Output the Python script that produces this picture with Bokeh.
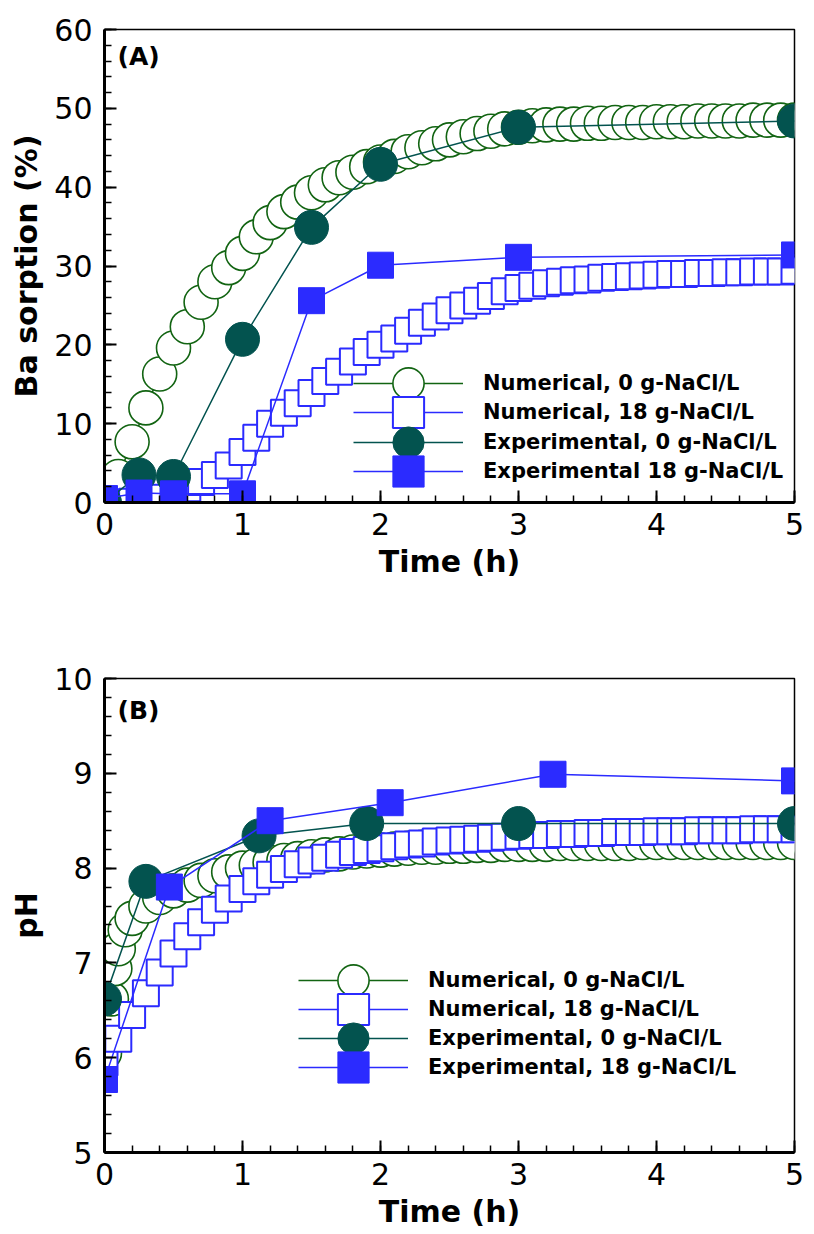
from bokeh.plotting import figure
from bokeh.layouts import column
from bokeh.models import Range1d, SingleIntervalTicker, Legend, LegendItem, Label
from bokeh.embed import file_html
from bokeh.resources import INLINE

# ---------------- data ----------------
TIME_GRID = [0.0, 0.1, 0.2, 0.3, 0.4, 0.5, 0.6, 0.7, 0.8, 0.9,
             1.0, 1.1, 1.2, 1.3, 1.4, 1.5, 1.6, 1.7, 1.8, 1.9,
             2.0, 2.1, 2.2, 2.3, 2.4, 2.5, 2.6, 2.7, 2.8, 2.9,
             3.0, 3.1, 3.2, 3.3, 3.4, 3.5, 3.6, 3.7, 3.8, 3.9,
             4.0, 4.1, 4.2, 4.3, 4.4, 4.5, 4.6, 4.7, 4.8, 4.9, 5.0]

# Panel A: Ba sorption (%)
BA_NUM_0 = [0.0, 3.3, 7.7, 12.0, 16.3, 19.6, 22.3, 25.4, 28.0, 29.8,
            31.6, 33.7, 35.5, 36.9, 38.1, 39.3, 40.3, 41.2, 41.9, 42.6,
            43.2, 43.9, 44.5, 45.0, 45.5, 46.0, 46.4, 46.8, 47.1, 47.4,
            47.6, 47.8, 47.9, 48.0, 48.0, 48.1, 48.1, 48.2, 48.2, 48.2,
            48.3, 48.3, 48.3, 48.4, 48.4, 48.4, 48.4, 48.5, 48.5, 48.5, 48.5]
BA_NUM_18 = [0.0, 0.0, 0.1, 0.3, 0.6, 1.1, 1.8, 2.6, 3.5, 4.7,
             6.4, 8.2, 10.0, 11.4, 12.6, 13.9, 15.4, 16.6, 17.9, 19.1,
             20.0, 20.8, 21.8, 22.8, 23.6, 24.4, 25.0, 25.6, 26.2, 26.8,
             27.2, 27.5, 27.8, 28.0, 28.2, 28.3, 28.5, 28.6, 28.7, 28.8,
             28.9, 29.0, 29.0, 29.1, 29.1, 29.2, 29.2, 29.3, 29.3, 29.3, 29.4]
TIME_EXP_A = [0.0, 0.25, 0.5, 1.0, 1.5, 2.0, 3.0, 5.0]
BA_EXP_0 = [0.0, 3.5, 3.3, 20.7, 34.9, 42.9, 47.6, 48.4]
BA_EXP_18 = [0.5, 1.2, 1.1, 1.1, 25.6, 30.1, 31.1, 31.4]

# Panel B: pH
TIME_PH_NUM0 = [0.0, 0.025, 0.05, 0.075, 0.1, 0.15, 0.2,
                0.3, 0.4, 0.5, 0.6, 0.7, 0.8, 0.9,
                1.0, 1.1, 1.2, 1.3, 1.4, 1.5, 1.6, 1.7, 1.8, 1.9,
                2.0, 2.1, 2.2, 2.3, 2.4, 2.5, 2.6, 2.7, 2.8, 2.9,
                3.0, 3.1, 3.2, 3.3, 3.4, 3.5, 3.6, 3.7, 3.8, 3.9,
                4.0, 4.1, 4.2, 4.3, 4.4, 4.5, 4.6, 4.7, 4.8, 4.9, 5.0]
PH_NUM_0 = [6.05, 6.32, 6.62, 6.94, 7.15, 7.35, 7.47,
            7.60, 7.69, 7.76, 7.82, 7.87, 7.92, 7.96,
            8.00, 8.03, 8.06, 8.08, 8.10, 8.12, 8.14, 8.15, 8.17, 8.18,
            8.19, 8.20, 8.21, 8.22, 8.22, 8.23, 8.23, 8.24, 8.24, 8.25,
            8.25, 8.25, 8.25, 8.26, 8.26, 8.26, 8.26, 8.26, 8.26, 8.27,
            8.27, 8.27, 8.27, 8.27, 8.27, 8.27, 8.27, 8.27, 8.27, 8.27, 8.27]
PH_NUM_18 = [5.95, 6.20, 6.45, 6.68, 6.90, 7.10, 7.28, 7.43, 7.56, 7.68,
             7.78, 7.86, 7.93, 7.99, 8.04, 8.08, 8.11, 8.14, 8.17, 8.19,
             8.21, 8.23, 8.25, 8.26, 8.28, 8.29, 8.30, 8.31, 8.32, 8.33,
             8.34, 8.35, 8.35, 8.36, 8.36, 8.37, 8.37, 8.38, 8.38, 8.38,
             8.39, 8.39, 8.39, 8.40, 8.40, 8.40, 8.40, 8.41, 8.41, 8.41, 8.41]
TIME_PH_EXP0 = [0.0, 0.3, 1.12, 1.9, 3.0, 5.0]
PH_EXP_0 = [6.62, 7.86, 8.34, 8.47, 8.47, 8.47]
TIME_PH_EXP18 = [0.0, 0.47, 1.2, 2.07, 3.25, 5.0]
PH_EXP_18 = [5.77, 7.80, 8.50, 8.69, 8.99, 8.92]

LABELS_A = ["Numerical, 0 g-NaCl/L", "Numerical, 18 g-NaCl/L",
            "Experimental, 0 g-NaCl/L", "Experimental 18 g-NaCl/L"]
LABELS_B = ["Numerical, 0 g-NaCl/L", "Numerical, 18 g-NaCl/L",
            "Experimental, 0 g-NaCl/L", "Experimental, 18 g-NaCl/L"]

# ---------------- styles ----------------
GREEN = "#126412"
TEAL = "#03534F"
BLUE = "#2B2BFF"
FONT = "DejaVu Sans"


def make_panel(tag, ylabel, y_start, y_end, y_step, height, top, bottom,
               series, labels, leg_x, leg_ys, tag_y):
    p = figure(width=814, height=height, output_backend="svg", toolbar_location=None,
               x_range=Range1d(start=0, end=5), y_range=Range1d(start=y_start, end=y_end),
               min_border_left=104, min_border_right=20,
               min_border_top=top, min_border_bottom=bottom)
    p.background_fill_color = "white"
    p.border_fill_color = "white"
    p.outline_line_color = "black"
    p.outline_line_width = 1.5
    p.xgrid.visible = False
    p.ygrid.visible = False

    p.xaxis.ticker = SingleIntervalTicker(interval=1, num_minor_ticks=5)
    p.yaxis.ticker = SingleIntervalTicker(interval=y_step, num_minor_ticks=5)
    p.xaxis.axis_label = "Time (h)"
    p.yaxis.axis_label = ylabel
    for ax in (p.xaxis[0], p.yaxis[0]):
        ax.axis_line_width = 3
        ax.axis_line_color = "black"
        ax.major_tick_in = 12
        ax.major_tick_out = 0
        ax.major_tick_line_width = 2
        ax.minor_tick_in = 7
        ax.minor_tick_out = 0
        ax.minor_tick_line_width = 1.5
        ax.major_label_text_font = FONT
        ax.major_label_text_font_size = "30px"
        ax.major_label_text_color = "black"
        ax.axis_label_text_font = FONT
        ax.axis_label_text_font_style = "bold"
        ax.axis_label_text_font_size = "30px"
        ax.axis_label_text_color = "black"
    p.xaxis.major_label_standoff = 10
    p.yaxis.major_label_standoff = 12
    p.xaxis.axis_label_standoff = 6
    p.yaxis.axis_label_standoff = 7

    (t_n0, y_n0), (t_n18, y_n18), (t_e0, y_e0), (t_e18, y_e18) = series
    l1 = p.line(t_n0, y_n0, line_color=GREEN, line_width=1.5)
    s1 = p.scatter(t_n0, y_n0, marker="circle", size=34, fill_color="white",
                   line_color=GREEN, line_width=1.6)
    l2 = p.line(t_n18, y_n18, line_color=BLUE, line_width=1.5)
    s2 = p.scatter(t_n18, y_n18, marker="square", size=26, fill_color="white",
                   line_color=BLUE, line_width=2)
    l3 = p.line(t_e0, y_e0, line_color=TEAL, line_width=1.5)
    s3 = p.scatter(t_e0, y_e0, marker="circle", size=34, fill_color=TEAL,
                   line_color=TEAL, line_width=1)
    l4 = p.line(t_e18, y_e18, line_color=BLUE, line_width=1.5)
    s4 = p.scatter(t_e18, y_e18, marker="square", size=26, fill_color=BLUE,
                   line_color=BLUE, line_width=1)

    # one single-row legend per entry, so that rows can sit closer than the marker size
    for lab, rs, ly in zip(labels, [[l1, s1], [l2, s2], [l3, s3], [l4, s4]], leg_ys):
        legend = Legend(items=[LegendItem(label=lab, renderers=rs)], location=(leg_x, ly),
                        glyph_width=110, glyph_height=78, spacing=0,
                        label_standoff=20, padding=0, margin=0,
                        border_line_color=None, background_fill_alpha=0,
                        label_text_font=FONT, label_text_font_style="bold",
                        label_text_font_size="21px", label_text_color="black")
        p.add_layout(legend)

    p.add_layout(Label(x=13, y=tag_y, x_units="screen", y_units="screen", text=tag,
                       text_font=FONT, text_font_style="bold", text_font_size="25px",
                       text_baseline="top", text_color="black"))
    return p


pa = make_panel("(A)", "Ba sorption (%)", 0, 60, 10, 600, 29, 98,
                [(TIME_GRID, BA_NUM_0), (TIME_GRID, BA_NUM_18),
                 (TIME_EXP_A, BA_EXP_0), (TIME_EXP_A, BA_EXP_18)],
                LABELS_A, 249, [80, 51, 21, -8], 461)
pb = make_panel("(B)", "pH", 5, 10, 1, 634, 78, 82,
                [(TIME_PH_NUM0, PH_NUM_0), (TIME_GRID, PH_NUM_18),
                 (TIME_PH_EXP0, PH_EXP_0), (TIME_PH_EXP18, PH_EXP_18)],
                LABELS_B, 194, [133, 104, 75, 46], 457)

layout = column(pa, pb, spacing=0)
open("out.html", "w").write(file_html(layout, INLINE))
